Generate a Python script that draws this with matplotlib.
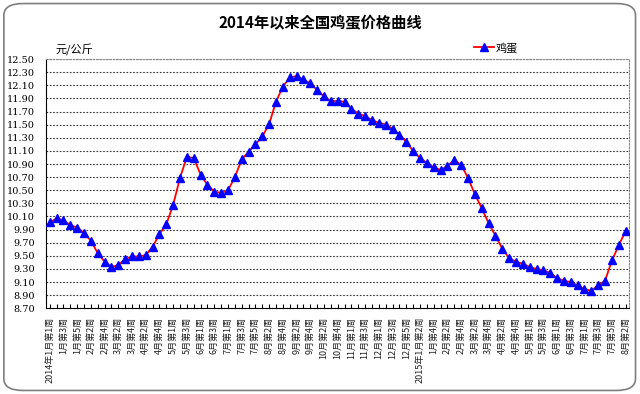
import matplotlib
matplotlib.use("Agg")
import matplotlib.pyplot as plt
from matplotlib.patches import FancyBboxPatch

plt.rcParams["font.family"] = ["Noto Sans CJK SC", "DejaVu Sans"]

# weekly national egg price (元/公斤), 2014 week 1 .. 2015 Aug week 2
prices = [
    10.01, 10.07, 10.04, 9.97, 9.93, 9.85, 9.73, 9.54, 9.41, 9.33,
    9.36, 9.45, 9.49, 9.49, 9.51, 9.64, 9.83, 9.98, 10.28, 10.69,
    11.01, 10.99, 10.74, 10.58, 10.48, 10.46, 10.50, 10.70, 10.97, 11.09,
    11.20, 11.32, 11.51, 11.85, 12.08, 12.22, 12.24, 12.19, 12.13, 12.03,
    11.93, 11.86, 11.86, 11.85, 11.74, 11.67, 11.63, 11.57, 11.53, 11.50,
    11.44, 11.35, 11.24, 11.10, 10.99, 10.92, 10.85, 10.81, 10.87, 10.96,
    10.89, 10.69, 10.44, 10.23, 10.00, 9.81, 9.61, 9.47, 9.41, 9.38,
    9.33, 9.30, 9.28, 9.24, 9.16, 9.12, 9.10, 9.05, 8.99, 8.97,
    9.05, 9.12, 9.43, 9.66, 9.88,
]

# label shown on every second week
week_labels = [
    "2014年1月第1周", "1月第3周", "1月第5周", "2月第2周", "2月第4周",
    "3月第2周", "3月第4周", "4月第2周", "4月第4周", "5月第1周",
    "5月第3周", "6月第1周", "6月第3周", "7月第1周", "7月第3周",
    "7月第5周", "8月第2周", "8月第4周", "9月第2周", "9月第4周",
    "10月第2周", "10月第4周", "11月第1周", "11月第3周", "12月第1周",
    "12月第3周", "12月第5周",
    "2015年1月第2周", "1月第4周", "2月第2周", "2月第4周", "3月第2周",
    "3月第4周", "4月第2周", "4月第4周", "5月第1周", "5月第3周",
    "6月第1周", "6月第3周", "7月第1周", "7月第3周", "7月第5周",
    "8月第2周",
]

y_ticks = [8.70 + 0.20 * i for i in range(20)]

fig = plt.figure(figsize=(6.4, 3.94), dpi=100)

# rounded frame round the whole picture
frame = FancyBboxPatch((0.006, 0.009), 0.987, 0.982,
                       boxstyle="round,pad=0,rounding_size=0.03",
                       transform=fig.transFigure, fill=False,
                       edgecolor="#7f7f7f", linewidth=1.2)
fig.patches.append(frame)

ax = fig.add_axes([0.0719, 0.2175, 0.911, 0.6325])

x = list(range(len(prices)))
ax.plot(x, prices, color="red", linewidth=1.3, marker="^",
        markersize=5.8, markerfacecolor="blue", markeredgecolor="blue",
        label="鸡蛋", zorder=3)

ax.set_xlim(-0.55, len(prices) - 0.5)
ax.set_ylim(8.70, 12.50)
ax.set_yticks(y_ticks)
ax.set_yticklabels([f"{v:.2f}" for v in y_ticks], fontsize=7,
                   family="DejaVu Serif")
ax.tick_params(axis="y", length=0, pad=8)

ax.set_xticks(x, minor=True)
ax.set_xticks(x[::2])
ax.set_xticklabels(week_labels, rotation=90, fontsize=6.5, va="top",
                   color="#222222")
ax.tick_params(axis="x", which="both", direction="in", length=3,
               width=0.8, pad=6)

for v in y_ticks[1:]:
    ax.axhline(v, color="#333333", linewidth=0.8,
               linestyle=(0, (1.5, 1.5)), zorder=1)

ax.spines["left"].set_color("black")
ax.spines["bottom"].set_color("black")
for side in ["top", "right"]:
    ax.spines[side].set_linestyle((0, (1.5, 1.5)))
    ax.spines[side].set_color("#888888")
    ax.spines[side].set_linewidth(0.8)

fig.text(0.5, 0.942, "2014年以来全国鸡蛋价格曲线", ha="center",
         va="center", fontsize=11, fontweight="bold")
fig.text(0.086, 0.873, "元/公斤", ha="left", va="center", fontsize=8)

ax.legend(loc="center", bbox_to_anchor=(0.772, 1.045), frameon=False,
          fontsize=8, handlelength=1.8, handletextpad=0.2,
          borderaxespad=0)

fig.savefig("out.png", dpi=100)
